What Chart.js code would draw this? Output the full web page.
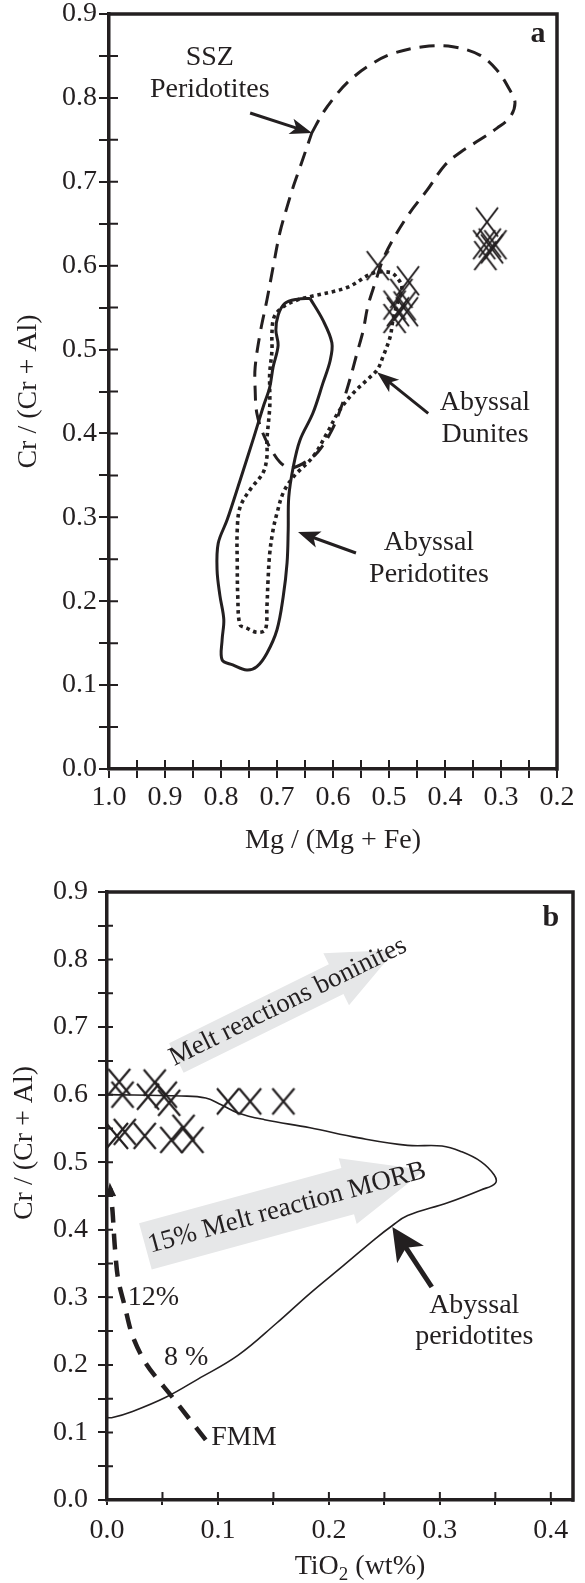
<!DOCTYPE html>
<html>
<head>
<meta charset="utf-8">
<script src="https://cdn.jsdelivr.net/npm/chart.js@4/dist/chart.umd.min.js"></script>
<style>
  body { margin: 0; background: #fff; }
  #boxA { position: absolute; left: 0; top: 0; }
  #boxB { position: absolute; left: 0; top: 860px; }
</style>
</head>
<body>
<div id="boxA"><canvas id="chartA" width="585" height="860"></canvas></div>
<div id="boxB"><canvas id="chartB" width="585" height="723"></canvas></div>
<script>
const ink = '#231f20';
const serif = "'Liberation Serif', 'Times New Roman', Times, serif";

// ---- panel a: Cr# vs Mg# ----
const mgTickLabels = ['1.0', '0.9', '0.8', '0.7', '0.6', '0.5', '0.4', '0.3', '0.2'];
const crTickLabels = ['0.0', '0.1', '0.2', '0.3', '0.4', '0.5', '0.6', '0.7', '0.8', '0.9'];

// SSZ peridotite field (dashed)
const sszMg = [0.638, 0.618, 0.596, 0.575, 0.539, 0.497, 0.439, 0.386, 0.338, 0.307, 0.284, 0.275, 0.284, 0.307,
  0.338, 0.373, 0.400, 0.432, 0.463, 0.493, 0.511, 0.525, 0.538, 0.546, 0.557, 0.570, 0.584, 0.602, 0.627,
  0.654, 0.677, 0.695, 0.713, 0.725, 0.736, 0.739, 0.739, 0.730, 0.718, 0.707, 0.695, 0.682, 0.671, 0.659, 0.638];
const sszCr = [0.758, 0.782, 0.802, 0.818, 0.837, 0.852, 0.861, 0.861, 0.851, 0.833, 0.809, 0.794, 0.777, 0.764,
  0.750, 0.735, 0.720, 0.690, 0.663, 0.631, 0.607, 0.579, 0.551, 0.523, 0.496, 0.464, 0.434, 0.404, 0.378,
  0.364, 0.359, 0.366, 0.384, 0.400, 0.424, 0.452, 0.479, 0.520, 0.559, 0.598, 0.639, 0.670, 0.694, 0.717, 0.758];

// abyssal peridotite field (solid)
const abpMg = [0.641, 0.618, 0.602, 0.605, 0.618, 0.636, 0.659, 0.671, 0.679, 0.680, 0.682, 0.689, 0.700, 0.718,
  0.736, 0.754, 0.779, 0.798, 0.798, 0.795, 0.802, 0.807, 0.805, 0.789, 0.766, 0.743, 0.725, 0.713, 0.707,
  0.698, 0.702, 0.698, 0.686, 0.664, 0.641];
const abpCr = [0.561, 0.535, 0.508, 0.487, 0.460, 0.424, 0.392, 0.360, 0.324, 0.285, 0.246, 0.205, 0.166, 0.138,
  0.122, 0.118, 0.124, 0.130, 0.154, 0.178, 0.207, 0.237, 0.269, 0.297, 0.344, 0.392, 0.431, 0.455, 0.479,
  0.505, 0.523, 0.541, 0.555, 0.560, 0.561];

// abyssal dunite field (dotted)
const abdMg = [0.641, 0.575, 0.529, 0.498, 0.486, 0.477, 0.486, 0.493, 0.498, 0.511, 0.521, 0.539, 0.564, 0.588,
  0.611, 0.636, 0.671, 0.689, 0.700, 0.707, 0.713, 0.716, 0.718, 0.721, 0.736, 0.754, 0.766, 0.770, 0.771,
  0.771, 0.766, 0.748, 0.725, 0.718, 0.718, 0.713, 0.713, 0.713, 0.709, 0.709, 0.705, 0.689, 0.664, 0.641];
const abdCr = [0.563, 0.574, 0.591, 0.592, 0.586, 0.574, 0.553, 0.535, 0.515, 0.491, 0.476, 0.464, 0.448, 0.428,
  0.400, 0.372, 0.348, 0.329, 0.305, 0.285, 0.257, 0.225, 0.193, 0.166, 0.163, 0.168, 0.172, 0.205, 0.246,
  0.285, 0.312, 0.333, 0.353, 0.372, 0.392, 0.431, 0.452, 0.472, 0.499, 0.520, 0.539, 0.551, 0.559, 0.563];

// chromite samples
const sampleMg = [0.520, 0.466, 0.478, 0.490, 0.472, 0.484, 0.468, 0.490, 0.325, 0.330, 0.320, 0.310, 0.328, 0.316];
const sampleCr = [0.600, 0.582, 0.567, 0.553, 0.552, 0.545, 0.545, 0.537, 0.652, 0.625, 0.627, 0.625, 0.612, 0.620];

// ---- panel b: Cr# vs TiO2 ----
const tiTickLabels = ['0.0', '0.1', '0.2', '0.3', '0.4'];

const sampleTi = [0.011, 0.014, 0.037, 0.043, 0.053, 0.056, 0.009, 0.016, 0.034, 0.058, 0.069, 0.077, 0.109, 0.129, 0.159];
const sampleCrB = [0.619, 0.600, 0.597, 0.618, 0.600, 0.588, 0.539, 0.545, 0.539, 0.533, 0.551, 0.533, 0.590, 0.590, 0.590];

const abyssTi = [0.000, 0.067, 0.089, 0.103, 0.118, 0.142, 0.183, 0.227, 0.271, 0.302, 0.319, 0.337, 0.349, 0.350,
  0.337, 0.307, 0.271, 0.257, 0.242, 0.213, 0.183, 0.153, 0.118, 0.082, 0.053, 0.023, 0.005, 0.000];
const abyssCr = [0.600, 0.598, 0.595, 0.585, 0.573, 0.563, 0.551, 0.536, 0.525, 0.524, 0.516, 0.501, 0.481, 0.469,
  0.459, 0.440, 0.421, 0.406, 0.387, 0.347, 0.306, 0.262, 0.214, 0.179, 0.152, 0.131, 0.122, 0.122];

const fmmTi = [0.089, 0.0585, 0.0355, 0.023, 0.016, 0.010, 0.007, 0.005, 0.003];
const fmmCr = [0.089, 0.153, 0.201, 0.243, 0.287, 0.327, 0.376, 0.427, 0.461];

const pts = (xs, ys) => xs.map((x, i) => ({x: x, y: ys[i]}));

// major ticks from the labels, plus a minor tick half way between each pair
function tickValues(labels) {
  const v = labels.map(Number).sort((a, b) => a - b);
  const out = [];
  v.forEach((t, i) => {
    out.push(t);
    if (i < v.length - 1) out.push(+((t + v[i + 1]) / 2).toFixed(3));
  });
  return out;
}
const labelFor = labels => value => {
  const s = value.toFixed(1);
  return Math.abs(value * 10 - Math.round(value * 10)) < 1e-6 && labels.includes(s) ? s : '';
};

function xGlyph(w, h, lw) {
  const c = document.createElement('canvas');
  c.width = w + 4; c.height = h + 4;
  const g = c.getContext('2d');
  g.strokeStyle = ink; g.lineWidth = lw;
  g.beginPath();
  g.moveTo(2, 2); g.lineTo(w + 2, h + 2);
  g.moveTo(w + 2, 2); g.lineTo(2, h + 2);
  g.stroke();
  return c;
}

Chart.defaults.font.family = serif;
Chart.defaults.font.size = 28;
Chart.defaults.color = ink;

function drawArrow(ctx, x1, y1, x2, y2, lw, len, w) {
  const a = Math.atan2(y2 - y1, x2 - x1);
  const c = Math.cos(a), s = Math.sin(a);
  const bx = x2 - len * c, by = y2 - len * s;
  ctx.lineWidth = lw;
  ctx.beginPath();
  ctx.moveTo(x1, y1);
  ctx.lineTo(bx + 0.3 * len * c, by + 0.3 * len * s);
  ctx.stroke();
  ctx.beginPath();
  ctx.moveTo(x2, y2);
  ctx.lineTo(bx - s * w / 2, by + c * w / 2);
  ctx.lineTo(bx + 0.25 * len * c, by + 0.25 * len * s);
  ctx.lineTo(bx + s * w / 2, by - c * w / 2);
  ctx.closePath();
  ctx.fill();
}

function drawBand(ctx, x1, y1, x2, y2, shaft, headW, headLen) {
  const a = Math.atan2(y2 - y1, x2 - x1);
  const L = Math.hypot(x2 - x1, y2 - y1);
  ctx.save();
  ctx.translate(x1, y1);
  ctx.rotate(a);
  ctx.beginPath();
  ctx.moveTo(0, -shaft / 2);
  ctx.lineTo(L - headLen, -shaft / 2);
  ctx.lineTo(L - headLen, -headW / 2);
  ctx.lineTo(L, 0);
  ctx.lineTo(L - headLen, headW / 2);
  ctx.lineTo(L - headLen, shaft / 2);
  ctx.lineTo(0, shaft / 2);
  ctx.closePath();
  ctx.fillStyle = '#e6e7e8';
  ctx.fill();
  ctx.restore();
  return a;
}

// frame on top/right and the inner half of every tick
function framePlugin(o) {
  return {
    id: 'frame',
    afterDraw(chart) {
      const {ctx, chartArea: a, scales} = chart;
      ctx.save();
      ctx.strokeStyle = ink;
      ctx.lineJoin = 'miter';
      ctx.lineWidth = o.frame;
      ctx.beginPath();
      ctx.moveTo(a.left - o.frame / 2, a.top);
      ctx.lineTo(a.right, a.top);
      ctx.lineTo(a.right, a.bottom + o.frame / 2);
      ctx.stroke();
      ctx.lineWidth = 2;
      ctx.beginPath();
      scales.x.ticks.forEach(t => {
        const px = scales.x.getPixelForValue(t.value);
        ctx.moveTo(px, a.bottom);
        ctx.lineTo(px, a.bottom - o.xIn);
      });
      scales.y.ticks.forEach(t => {
        const py = scales.y.getPixelForValue(t.value);
        ctx.moveTo(a.left, py);
        ctx.lineTo(a.left + o.yIn, py);
      });
      ctx.stroke();
      ctx.restore();
    }
  };
}

// labels, arrows and shaded arrows given in data units
function notesPlugin(spec) {
  const P = (chart, p) => [chart.scales.x.getPixelForValue(p[0]), chart.scales.y.getPixelForValue(p[1])];
  return {
    id: 'notes',
    beforeDatasetsDraw(chart) {
      const ctx = chart.ctx;
      (spec.bands || []).forEach(b => {
        const [x1, y1] = P(chart, b.from);
        const [x2, y2] = P(chart, b.to);
        const ang = drawBand(ctx, x1, y1, x2, y2, b.shaft, b.headW, b.headLen);
        const [tx, ty] = P(chart, b.at);
        ctx.save();
        ctx.translate(tx, ty);
        ctx.rotate(ang + (b.turn || 0));
        ctx.font = '27px ' + serif;
        ctx.fillStyle = ink;
        ctx.textAlign = 'center';
        ctx.textBaseline = 'middle';
        ctx.fillText(b.text, 0, 0);
        ctx.restore();
      });
    },
    afterDatasetsDraw(chart) {
      const ctx = chart.ctx;
      ctx.save();
      ctx.fillStyle = ink;
      ctx.strokeStyle = ink;
      (spec.arrows || []).forEach(r => {
        const [x1, y1] = P(chart, r.from);
        const [x2, y2] = P(chart, r.to);
        drawArrow(ctx, x1, y1, x2, y2, r.lw, r.len, r.w);
      });
      (spec.texts || []).forEach(t => {
        const [x, y] = P(chart, [t.x, t.y]);
        ctx.font = (t.bold ? 'bold ' : '') + (t.size || 28) + 'px ' + serif;
        ctx.textAlign = t.align || 'center';
        ctx.textBaseline = 'alphabetic';
        t.lines.forEach((s, i) => ctx.fillText(s, x, y + i * (t.lh || 32)));
      });
      ctx.restore();
    }
  };
}

const fixSize = (w, h) => s => {
  if (w != null) s.width = w;
  if (h != null) s.height = h;
  s.paddingLeft = 0; s.paddingRight = 0; s.paddingTop = 0; s.paddingBottom = 0;
};

const axisStyle = (tickLen, pad) => ({
  border: {display: true, color: ink, width: 3.5},
  grid: {display: true, drawOnChartArea: false, drawTicks: true, tickLength: tickLen, color: ink, lineWidth: 2},
  ticks: {autoSkip: false, maxRotation: 0, minRotation: 0, padding: pad, color: ink, font: {size: 28}}
});

// ---------------- chart a ----------------
const glyphA = xGlyph(22, 29, 2);
const xa = axisStyle(9, 3);
const ya = axisStyle(10, 2);

new Chart(document.getElementById('chartA'), {
  type: 'scatter',
  data: {
    datasets: [
      {label: 'SSZ Peridotites', data: pts(sszMg, sszCr), showLine: true, pointRadius: 0,
       borderColor: ink, borderWidth: 3, borderDash: [15, 9], tension: 0.35, fill: false},
      {label: 'Abyssal Peridotites', data: pts(abpMg, abpCr), showLine: true, pointRadius: 0,
       borderColor: ink, borderWidth: 3, tension: 0.35, fill: false},
      {label: 'Abyssal Dunites', data: pts(abdMg, abdCr), showLine: true, pointRadius: 0,
       borderColor: ink, borderWidth: 3.6, borderDash: [3.6, 3.8], borderCapStyle: 'butt', tension: 0.35, fill: false},
      {label: 'Chromitites', data: pts(sampleMg, sampleCr), showLine: false,
       pointStyle: glyphA, pointRadius: 11, clip: false}
    ]
  },
  options: {
    responsive: false,
    animation: false,
    layout: {padding: {top: 14, right: 28, left: 0, bottom: 0}},
    plugins: {legend: {display: false}, tooltip: {enabled: false}},
    scales: {
      x: {
        type: 'linear', position: 'bottom', min: 0.2, max: 1.0, reverse: true,
        border: xa.border, grid: xa.grid,
        ticks: Object.assign({}, xa.ticks, {callback: labelFor(mgTickLabels)}),
        afterBuildTicks: s => { s.ticks = tickValues(mgTickLabels).map(v => ({value: v})); },
        afterFit: fixSize(null, 91),
        title: {display: true, text: 'Mg / (Mg + Fe)', color: ink, font: {size: 28}, padding: {top: 0, bottom: 3}}
      },
      y: {
        type: 'linear', position: 'left', min: 0, max: 0.9,
        border: ya.border, grid: ya.grid,
        ticks: Object.assign({}, ya.ticks, {callback: labelFor(crTickLabels)}),
        afterBuildTicks: s => { s.ticks = tickValues(crTickLabels).map(v => ({value: v})); },
        afterFit: fixSize(109, null),
        title: {display: true, text: 'Cr / (Cr + Al)', color: ink, font: {size: 28}, padding: {top: 12, bottom: 0}}
      }
    }
  },
  plugins: [
    framePlugin({frame: 3.5, xIn: 9, yIn: 9}),
    notesPlugin({
      texts: [
        {lines: ['SSZ', 'Peridotites'], x: 0.82, y: 0.839, lh: 32},
        {lines: ['Abyssal', 'Dunites'], x: 0.3286, y: 0.428, lh: 32},
        {lines: ['Abyssal', 'Peridotites'], x: 0.4286, y: 0.261, lh: 32},
        {lines: ['a'], x: 0.234, y: 0.8665, bold: true, size: 30}
      ],
      arrows: [
        {from: [0.748, 0.782], to: [0.6375, 0.758], lw: 3, len: 22, w: 16},
        {from: [0.430, 0.424], to: [0.5214, 0.473], lw: 3, len: 22, w: 16},
        {from: [0.559, 0.2575], to: [0.6625, 0.2825], lw: 3, len: 22, w: 17}
      ]
    })
  ]
});

// ---------------- chart b ----------------
const glyphB = xGlyph(22, 26, 2.2);
const xb = axisStyle(5, 9);
const yb = axisStyle(9, 10);

const titlesB = {
  id: 'titlesB',
  afterDraw(chart) {
    const ctx = chart.ctx;
    ctx.save();
    ctx.fillStyle = ink;
    // y title
    ctx.translate(25, 283);
    ctx.rotate(-Math.PI / 2);
    ctx.font = '28px ' + serif;
    ctx.textAlign = 'center';
    ctx.textBaseline = 'middle';
    ctx.fillText('Cr / (Cr + Al)', 0, 0);
    ctx.restore();
    // x title with subscript
    ctx.save();
    ctx.fillStyle = ink;
    ctx.textBaseline = 'alphabetic';
    ctx.textAlign = 'left';
    const big = '28px ' + serif, small = '19px ' + serif;
    ctx.font = big;
    const w1 = ctx.measureText('TiO').width, w3 = ctx.measureText(' (wt%)').width;
    ctx.font = small;
    const w2 = ctx.measureText('2').width;
    let x = 360 - (w1 + w2 + w3) / 2;
    const base = 714;
    ctx.font = big; ctx.fillText('TiO', x, base); x += w1;
    ctx.font = small; ctx.fillText('2', x, base + 6); x += w2;
    ctx.font = big; ctx.fillText(' (wt%)', x, base);
    ctx.restore();
  }
};

// little arrow tip on the upper end of the FMM trend
const fmmTip = {
  id: 'fmmTip',
  afterDatasetsDraw(chart) {
    const {ctx, scales} = chart;
    const n = fmmTi.length;
    const x2 = scales.x.getPixelForValue(fmmTi[n - 1]), y2 = scales.y.getPixelForValue(fmmCr[n - 1]);
    const x1 = scales.x.getPixelForValue(fmmTi[n - 2]), y1 = scales.y.getPixelForValue(fmmCr[n - 2]);
    const a = Math.atan2(y2 - y1, x2 - x1);
    ctx.save();
    ctx.fillStyle = ink;
    ctx.translate(x2, y2);
    ctx.rotate(a);
    ctx.beginPath();
    ctx.moveTo(6, 0);
    ctx.lineTo(-8, -5);
    ctx.lineTo(-8, 5);
    ctx.closePath();
    ctx.fill();
    ctx.restore();
  }
};

new Chart(document.getElementById('chartB'), {
  type: 'scatter',
  data: {
    datasets: [
      {label: 'Abyssal peridotites', data: pts(abyssTi, abyssCr), showLine: true, pointRadius: 0,
       borderColor: ink, borderWidth: 1.6, tension: 0.4, fill: false},
      {label: 'FMM', data: pts(fmmTi, fmmCr), showLine: true, pointRadius: 0,
       borderColor: ink, borderWidth: 4.5, borderDash: [16, 11], borderCapStyle: 'butt', tension: 0.3, fill: false},
      {label: 'Chromitites', data: pts(sampleTi, sampleCrB), showLine: false,
       pointStyle: glyphB, pointRadius: 11, clip: false}
    ]
  },
  options: {
    responsive: false,
    animation: false,
    layout: {padding: {top: 32, right: 4.5, left: 0, bottom: 0}},
    plugins: {legend: {display: false}, tooltip: {enabled: false}},
    scales: {
      x: {
        type: 'linear', position: 'bottom', min: 0, max: 0.42,
        border: xb.border, grid: xb.grid,
        ticks: Object.assign({}, xb.ticks, {callback: labelFor(tiTickLabels)}),
        afterBuildTicks: s => { s.ticks = tickValues(tiTickLabels).map(v => ({value: v})); },
        afterFit: fixSize(null, 83)
      },
      y: {
        type: 'linear', position: 'left', min: 0, max: 0.9,
        border: yb.border, grid: yb.grid,
        ticks: Object.assign({}, yb.ticks, {callback: labelFor(crTickLabels)}),
        afterBuildTicks: s => { s.ticks = tickValues(crTickLabels).map(v => ({value: v})); },
        afterFit: fixSize(107, null)
      }
    }
  },
  plugins: [
    framePlugin({frame: 3.5, xIn: 8, yIn: 6}),
    notesPlugin({
      bands: [
        {from: [0.0625, 0.6543], to: [0.2599, 0.8142], shaft: 33, headW: 58, headLen: 66,
         text: 'Melt reactions boninites', at: [0.1632, 0.7373]},
        {from: [0.0346, 0.3753], to: [0.2865, 0.4885], shaft: 48, headW: 68, headLen: 80,
         text: '15% Melt reaction MORB', at: [0.1623, 0.4323]}
      ],
      texts: [
        {lines: ['b'], x: 0.400, y: 0.8497, bold: true, size: 30},
        {lines: ['Abyssal', 'peridotites'], x: 0.331, y: 0.2768, lh: 31},
        {lines: ['12%'], x: 0.0186, y: 0.2887, align: 'left'},
        {lines: ['8 %'], x: 0.0514, y: 0.1999, align: 'left'},
        {lines: ['FMM'], x: 0.094, y: 0.0814, align: 'left'}
      ],
      arrows: [
        {from: [0.2927, 0.3153], to: [0.2572, 0.4041], lw: 5, len: 33, w: 32}
      ]
    }),
    fmmTip,
    titlesB
  ]
});
</script>
</body>
</html>
